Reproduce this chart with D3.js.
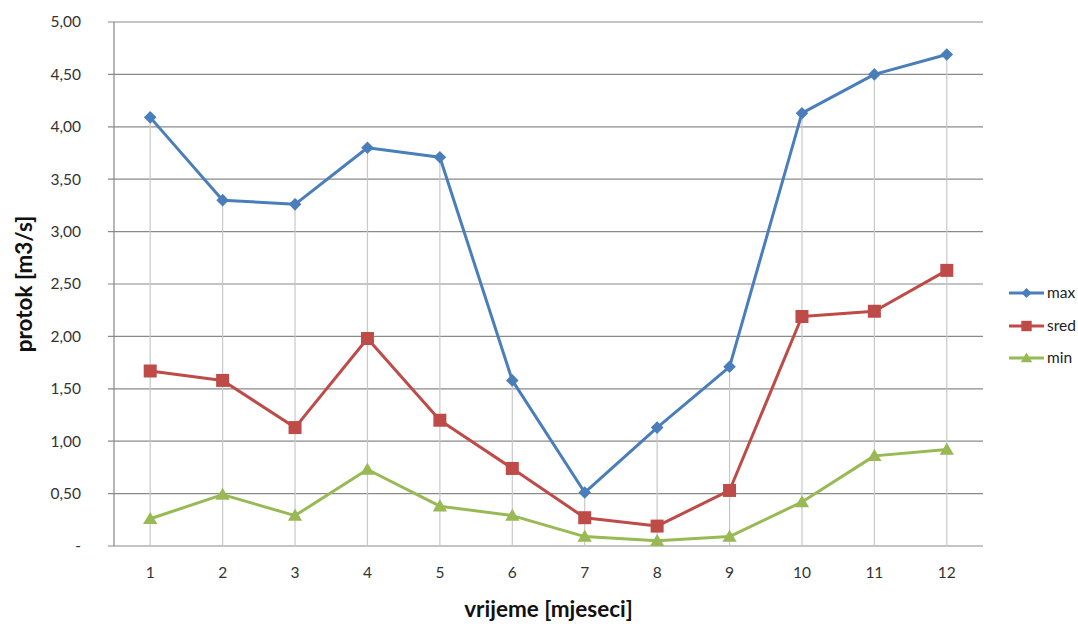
<!DOCTYPE html>
<html>
<head>
<meta charset="utf-8">
<script src="https://cdn.jsdelivr.net/npm/d3@7"></script>
<style>
  html, body { margin: 0; padding: 0; background: #fff; }
  svg { display: block; font-family: Lato, "Open Sans", sans-serif; }
</style>
</head>
<body>
<svg id="chart" width="1078" height="624"></svg>
<script>
// Monthly flow (m3/s): maximum, mean and minimum
const months = ["1", "2", "3", "4", "5", "6", "7", "8", "9", "10", "11", "12"];
const maxValues = [4.09, 3.30, 3.26, 3.80, 3.71, 1.58, 0.51, 1.13, 1.71, 4.13, 4.50, 4.69];
const sredValues = [1.67, 1.58, 1.13, 1.98, 1.20, 0.74, 0.27, 0.19, 0.53, 2.19, 2.24, 2.63];
const minValues = [0.26, 0.49, 0.29, 0.73, 0.38, 0.29, 0.09, 0.05, 0.09, 0.42, 0.86, 0.92];
const yTicks = [0, 0.5, 1, 1.5, 2, 2.5, 3, 3.5, 4, 4.5, 5];
const seriesNames = ["max", "sred", "min"];

const series = [
  { name: seriesNames[0], values: maxValues, color: "#4a7ebb", marker: "diamond" },
  { name: seriesNames[1], values: sredValues, color: "#be4b48", marker: "square" },
  { name: seriesNames[2], values: minValues, color: "#98b954", marker: "triangle" }
];

const svg = d3.select("#chart");
const plot = { left: 114, right: 983, top: 22, bottom: 546 };

const x = d3.scaleBand().domain(months).range([plot.left, plot.right]);
const y = d3.scaleLinear().domain([0, 5]).range([plot.bottom, plot.top]);
const cx = d => x(d) + x.bandwidth() / 2;

const fmt = v => v === 0 ? "-" : d3.format(".2f")(v).replace(".", ",");

// horizontal gridlines with tick stubs
svg.append("g").selectAll("line").data(yTicks).join("line")
  .attr("x1", plot.left - 6).attr("x2", plot.right)
  .attr("y1", d => y(d)).attr("y2", d => y(d))
  .attr("stroke", "#8a8a8a")
  .attr("stroke-width", 1.2);

// drop lines from the maximum series to the axis
svg.append("g").selectAll("line").data(months).join("line")
  .attr("x1", d => cx(d)).attr("x2", d => cx(d))
  .attr("y1", (d, i) => y(maxValues[i])).attr("y2", plot.bottom)
  .attr("stroke", "#c8c8c8").attr("stroke-width", 1.2);

// value axis line
svg.append("line")
  .attr("x1", plot.left).attr("x2", plot.left)
  .attr("y1", plot.top).attr("y2", plot.bottom)
  .attr("stroke", "#868686").attr("stroke-width", 1.2);

// y tick labels
svg.append("g").selectAll("text").data(yTicks).join("text")
  .attr("x", 81).attr("y", d => y(d))
  .attr("dy", "0.35em").attr("text-anchor", "end")
  .attr("font-size", 15.5).attr("fill", "#333")
  .text(fmt);

// x tick labels
svg.append("g").selectAll("text").data(months).join("text")
  .attr("x", d => cx(d)).attr("y", 573)
  .attr("dy", "0.35em").attr("text-anchor", "middle")
  .attr("font-size", 15.5).attr("fill", "#333")
  .text(d => d);

// axis titles
svg.append("text")
  .attr("x", (plot.left + plot.right) / 2 + 0).attr("y", 609)
  .attr("dy", "0.35em").attr("text-anchor", "middle")
  .attr("font-size", 22.5).attr("font-weight", "bold").attr("fill", "#111")
  .text("vrijeme [mjeseci]");

svg.append("text")
  .attr("transform", "translate(24,284) rotate(-90)")
  .attr("dy", "0.35em").attr("text-anchor", "middle")
  .attr("font-size", 22.5).attr("font-weight", "bold").attr("fill", "#111")
  .text("protok [m3/s]");

function markerShape(type, size) {
  const h = size / 2;
  if (type === "diamond") return `M0,${-h * 1.05}L${h * 1.05},0L0,${h * 1.05}L${-h * 1.05},0Z`;
  if (type === "square") return `M${-h},${-h}H${h}V${h}H${-h}Z`;
  return `M0,${-h * 1.05}L${h * 1.1},${h * 0.8}L${-h * 1.1},${h * 0.8}Z`;
}
const markerSize = { diamond: 12, square: 13, triangle: 13 };

const line = d3.line().x((d, i) => cx(months[i])).y(d => y(d));

series.forEach(s => {
  const g = svg.append("g");
  g.append("path").datum(s.values)
    .attr("d", line)
    .attr("fill", "none").attr("stroke", s.color)
    .attr("stroke-width", 3).attr("stroke-linejoin", "round");
  g.selectAll("path.m").data(s.values).join("path")
    .attr("class", "m")
    .attr("transform", (d, i) => `translate(${cx(months[i])},${y(d)})`)
    .attr("d", markerShape(s.marker, markerSize[s.marker]))
    .attr("fill", s.color);
});

// legend
const legendY = [293, 326, 358];
const lg = svg.append("g");
series.forEach((s, i) => {
  const row = lg.append("g").attr("transform", `translate(0,${legendY[i]})`);
  row.append("line").attr("x1", 1009).attr("x2", 1044)
    .attr("stroke", s.color).attr("stroke-width", 3);
  row.append("path").attr("transform", "translate(1026.5,0)")
    .attr("d", markerShape(s.marker, markerSize[s.marker] * 0.8))
    .attr("fill", s.color);
  row.append("text").attr("x", 1047).attr("dy", "0.35em")
    .attr("font-size", 15.5).attr("fill", "#222")
    .text(s.name);
});
</script>
</body>
</html>
